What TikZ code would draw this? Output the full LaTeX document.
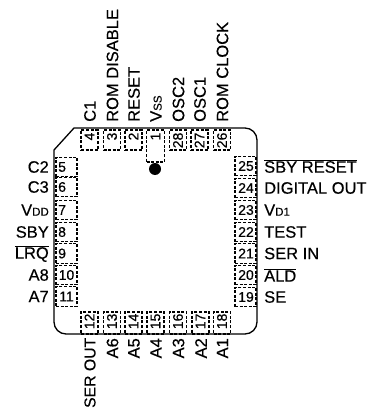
\documentclass[tikz,border=0pt]{standalone}
\usepackage{fontspec}
\setmainfont[FakeBold=0.35]{Liberation Sans}
\newcommand{\ovl}[1]{$\overline{\hbox{#1}}$}
\newcommand{\smc}[1]{{\fontsize{11.5}{11.5}\selectfont #1}}
\tikzset{
  pad/.style={draw,line width=1.15pt,dash pattern=on 3pt off 1.6pt,inner sep=0pt},
  hpad/.style={pad,minimum width=21pt,minimum height=19.5pt},
  vpad/.style={pad,minimum width=17pt,minimum height=20pt},
  num/.style={font=\fontsize{14}{14}\selectfont,inner sep=0pt},
  lab/.style={font=\fontsize{16.5}{17}\selectfont,inner sep=0pt},
}
\begin{document}
\begin{tikzpicture}[x=1pt,y=-1pt]
\path[use as bounding box,fill=white] (0,0) rectangle (368,409);
\draw[line width=1.3pt,rounded corners=12pt] (54,150) [sharp corners] -- (74,128) [rounded corners=12pt] -- (257,128) -- (257,334) -- (54,334) [sharp corners] -- cycle;
% top pads
\foreach \n/\x/\t in {4/89.5/C1,3/112/ROM DISABLE,2/133.5/RESET,28/178/OSC2,27/199.5/OSC1,26/222/ROM CLOCK}{
  \node[vpad] (p\n) at (\x,140) {};
  \node[num,rotate=90,anchor=east] (n\n) at ([yshift=-3pt]p\n.north) {\n};
  \node[lab,rotate=90,anchor=west] (l\n) at (\x+0.5,122) {\t};
}
\node[pad,minimum width=18pt,minimum height=32pt] (p1) at (155.5,146) {};
\node[num,rotate=90,anchor=east] (n1) at ([yshift=-3pt]p1.north) {1};
\node[lab,rotate=90,anchor=west] (l1) at (156,122) {V\smc{SS}};
\fill (155,169) circle (6pt);
% bottom pads
\foreach \n/\x/\t in {13/112/A6,14/133.5/A5,15/155.5/A4,16/178/A3,17/200.5/A2,18/222/A1}{
  \node[vpad,minimum height=22pt] (p\n) at (\x,323) {};
  \node[num,rotate=90,anchor=east] (n\n) at ([yshift=-2pt]p\n.north) {\n};
  \node[lab,rotate=90,anchor=east] (l\n) at (\x+0.5,338) {\t};
}
\node[vpad,minimum height=22pt] (p12) at (89.5,323) {};
\node[num,rotate=90,anchor=east] (n12) at ([yshift=-2pt]p12.north) {12};
\node[lab,font=\fontsize{15.8}{17}\selectfont,rotate=90,anchor=east] (l12) at (90,337.5) {SER OUT};
% left pads
\foreach \n/\y/\t in {5/167/C2,6/187/C3,8/232/SBY,9/253.5/\ovl{LRQ},10/275/A8,11/296.5/A7}{
  \node[hpad] (p\n) at (66.5,\y) {};
  \node[lab,anchor=east] (l\n) at (49,\y) {\t};
}
\node[hpad] (p7) at (66.5,210) {};
\node[lab,anchor=east] (l7) at (49,210) {V\smc{DD}};
\foreach \n/\y in {5/167,6/187,7/210,8/232,9/253.5}{
  \node[num,anchor=west] (n\n) at (58,\y) {\n};
}
\foreach \n/\y in {10/275,11/296.5}{
  \node[num] (n\n) at (66.5,\y) {\n};
}
% right pads
\foreach \n/\y/\t in {25/166/\ovl{SBY RESET},24/188/DIGITAL OUT,22/232/TEST,21/253.5/SER IN,20/275/\ovl{ALD},19/297/SE}{
  \node[hpad] (p\n) at (245.5,\y) {};
  \node[num] (n\n) at (246,\y) {\n};
  \node[lab,anchor=west] (l\n) at (264,\y) {\t};
}
\node[hpad] (p23) at (245.5,210) {};
\node[num] (n23) at (246,210) {23};
\node[lab,anchor=west] (l23) at (264,210) {V\smc{D1}};
\end{tikzpicture}
\end{document}
